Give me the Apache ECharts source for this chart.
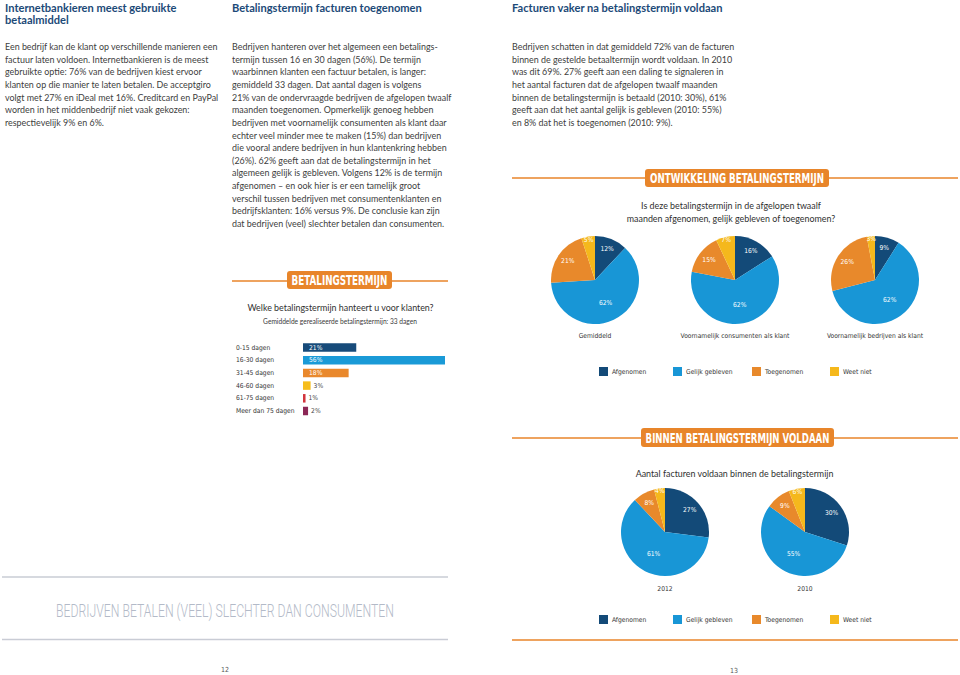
<!DOCTYPE html>
<html><head><meta charset="utf-8">
<script src="https://cdn.jsdelivr.net/npm/echarts@6/dist/echarts.min.js"></script>
<style>html,body{margin:0;padding:0;background:#fff}#c{width:960px;height:675px}</style>
</head><body><div id="c"></div>
<script>
// ---------- DATA ----------
const barCategories = ['0-15 dagen', '16-30 dagen', '31-45 dagen', '46-60 dagen', '61-75 dagen', 'Meer dan 75 dagen'];
const barValues = [21, 56, 18, 3, 1, 2];
const pieNames = ['Afgenomen', 'Gelijk gebleven', 'Toegenomen', 'Weet niet'];
const pieGemiddeld = [12, 62, 21, 5];
const pieConsumenten = [16, 62, 15, 7];
const pieBedrijven = [9, 62, 26, 3];
const pie2012 = [27, 61, 8, 4];
const pie2010 = [30, 55, 9, 6];
const pieCaptionsTop = ['Gemiddeld', 'Voornamelijk consumenten als klant', 'Voornamelijk bedrijven als klant'];
const pieCaptionsBottom = ['2012', '2010'];

const headings = ['Internetbankieren meest gebruikte\nbetaalmiddel', 'Betalingstermijn facturen toegenomen', 'Facturen vaker na betalingstermijn voldaan'];
const bodyLeft = [
  'Een bedrijf kan de klant op verschillende manieren een',
  'factuur laten voldoen. Internetbankieren is de meest',
  'gebruikte optie: 76% van de bedrijven kiest ervoor',
  'klanten op die manier te laten betalen. De acceptgiro',
  'volgt met 27% en iDeal met 16%. Creditcard en PayPal',
  'worden in het middenbedrijf niet vaak gekozen:',
  'respectievelijk 9% en 6%.'];
const bodyMiddle = [
  'Bedrijven hanteren over het algemeen een betalings-',
  'termijn tussen 16 en 30 dagen (56%). De termijn',
  'waarbinnen klanten een factuur betalen, is langer:',
  'gemiddeld 33 dagen. Dat aantal dagen is volgens',
  '21% van de ondervraagde bedrijven de afgelopen twaalf',
  'maanden toegenomen. Opmerkelijk genoeg hebben',
  'bedrijven met voornamelijk consumenten als klant daar',
  'echter veel minder mee te maken (15%) dan bedrijven',
  'die vooral andere bedrijven in hun klantenkring hebben',
  '(26%). 62% geeft aan dat de betalingstermijn in het',
  'algemeen gelijk is gebleven. Volgens 12% is de termijn',
  'afgenomen \u2013 en ook hier is er een tamelijk groot',
  'verschil tussen bedrijven met consumentenklanten en',
  'bedrijfsklanten: 16% versus 9%. De conclusie kan zijn',
  'dat bedrijven (veel) slechter betalen dan consumenten.'];
const bodyRight = [
  'Bedrijven schatten in dat gemiddeld 72% van de facturen',
  'binnen de gestelde betaaltermijn wordt voldaan. In 2010',
  'was dit 69%. 27% geeft aan een daling te signaleren in',
  'het aantal facturen dat de afgelopen twaalf maanden',
  'binnen de betalingstermijn is betaald (2010: 30%), 61%',
  'geeft aan dat het aantal gelijk is gebleven (2010: 55%)',
  'en 8% dat het is toegenomen (2010: 9%).'];
const bannerTexts = ['BETALINGSTERMIJN', 'ONTWIKKELING BETALINGSTERMIJN', 'BINNEN BETALINGSTERMIJN VOLDAAN'];
const barQuestion = 'Welke betalingstermijn hanteert u voor klanten?';
const barSubtitle = 'Gemiddelde gerealiseerde betalingstermijn: 33 dagen';
const pieQuestion = 'Is deze betalingstermijn in de afgelopen twaalf\nmaanden afgenomen, gelijk gebleven of toegenomen?';
const pieQuestion2 = 'Aantal facturen voldaan binnen de betalingstermijn';
const bottomTitle = 'BEDRIJVEN BETALEN (VEEL) SLECHTER DAN CONSUMENTEN';
const pageNumbers = ['12', '13'];

// ---------- STYLE ----------
const BAR_COLORS = ['#174b7a', '#1a9ad7', '#e9882c', '#f6bd1c', '#d2343c', '#8c2756'];
const PIE_COLORS = ['#134a78', '#1896d6', '#e8892b', '#f5b81c'];
const ORANGE = '#e8852a';
const BODY = "Lato, 'Open Sans', sans-serif";
const HEAD = "Lato, 'Open Sans', sans-serif";
const COND = "'Liberation Sans Narrow', 'DejaVu Sans Condensed', 'Roboto', sans-serif";
const BANNER = "'DejaVu Sans Condensed', 'Liberation Sans Narrow', sans-serif";
const THIN = "Roboto, 'Open Sans', sans-serif";
// label ring per category (share of pie radius used for the label ring)
const LABEL_RING = [1.36, null, 1.36, 1.72];

const mctx = document.createElement('canvas').getContext('2d');
function mw(text, size, family, weight) { mctx.font = (weight || 'normal') + ' ' + size + 'px ' + family; return mctx.measureText(text).width; }
function fit(text, family, weight, target) { return 10 * target / mw(text, 10, family, weight); }

const bodySize = fit(bodyLeft[0], BODY, 'normal', 213);
const headSize = fit(headings[1], HEAD, 'bold', 190);
const condSize = fit(pieCaptionsTop[1], COND, 'normal', 109);
const qSize = fit(barQuestion, BODY, 'normal', 187);
const subSize = fit(barSubtitle, BODY, 'normal', 154);

function txt(x, y, text, o) {
  return {
    type: 'text', x: x, y: y, silent: true, scaleX: o.sx || 1, scaleY: o.sy || 1,
    style: { text: text, fontSize: o.size, fontFamily: o.family, fontWeight: o.weight || 'normal',
      fill: o.color || '#404040', align: o.align || 'left', verticalAlign: o.va || 'middle', lineHeight: o.lh }
  };
}
function line(x1, y1, x2, y2, color, w) {
  return { type: 'line', silent: true, shape: { x1: x1, y1: y1, x2: x2, y2: y2 }, style: { stroke: color, lineWidth: w } };
}
function banner(text, cx, cy, bw, bh, textW, lx1, lx2, ly) {
  const size = 14;
  const sx = textW / mw(text, size, BANNER, 'bold');
  return [
    line(lx1, ly, lx2, ly, ORANGE, 1.5),
    { type: 'rect', silent: true, shape: { x: cx - bw / 2, y: cy - bh / 2, width: bw, height: bh, r: 3 }, style: { fill: ORANGE } },
    txt(cx, cy + 0.5, text, { size: size, family: BANNER, weight: 'bold', color: '#fff', align: 'center', sx: sx })
  ];
}

const LH = 12.65;
const graphics = [];
graphics.push(txt(5, 1.2, headings[0], { size: headSize, family: HEAD, weight: 'bold', color: '#1c4a78', va: 'top', lh: 12.5 }));
graphics.push(txt(232, 1.2, headings[1], { size: headSize, family: HEAD, weight: 'bold', color: '#1c4a78', va: 'top', lh: 12.5 }));
graphics.push(txt(512, 1.2, headings[2], { size: headSize, family: HEAD, weight: 'bold', color: '#1c4a78', va: 'top', lh: 12.5 }));
graphics.push(txt(5, 46.5 - LH / 2, bodyLeft.join('\n'), { size: bodySize, family: BODY, va: 'top', lh: LH }));
graphics.push(txt(232, 46.5 - LH / 2, bodyMiddle.join('\n'), { size: bodySize, family: BODY, va: 'top', lh: LH }));
graphics.push(txt(512, 46.5 - LH / 2, bodyRight.join('\n'), { size: bodySize, family: BODY, va: 'top', lh: LH }));

graphics.push(...banner(bannerTexts[0], 339.5, 280, 105, 18, 96, 232, 448, 281));
graphics.push(...banner(bannerTexts[1], 737, 178, 184, 18, 174, 512, 958, 178));
graphics.push(...banner(bannerTexts[2], 737.5, 437.5, 193, 19, 184, 512, 958, 438));
graphics.push(line(512, 640, 958, 640, ORANGE, 1.5));

graphics.push(txt(340.5, 307.7, barQuestion, { size: qSize, family: BODY, color: '#2f2f2f', align: 'center' }));
graphics.push(txt(340, 321, barSubtitle, { size: subSize, family: BODY, color: '#3b3b3b', align: 'center' }));
graphics.push(txt(731, 198.5, pieQuestion, { size: qSize, family: BODY, color: '#2f2f2f', align: 'center', va: 'top', lh: 13.5 }));
graphics.push(txt(734.5, 473, pieQuestion2, { size: qSize, family: BODY, color: '#2f2f2f', align: 'center' }));

const topCenters = [595, 735, 875];
pieCaptionsTop.forEach((c, i) => graphics.push(txt(topCenters[i], 335.5, c, { size: condSize, family: COND, color: '#333', align: 'center' })));
const botCenters = [665, 805];
pieCaptionsBottom.forEach((c, i) => graphics.push(txt(botCenters[i], 589, c, { size: condSize, family: COND, color: '#333', align: 'center' })));

graphics.push(line(2, 577, 448, 577, '#c9ccd5', 1.5));
graphics.push(line(2, 639.5, 448, 639.5, '#c9ccd5', 1.5));
const btSize = 19;
graphics.push(txt(225, 610, bottomTitle, { size: btSize, family: THIN, weight: 300, color: '#b3bac8', align: 'center', sx: 338 / mw(bottomTitle, btSize, THIN, '300') }));
graphics.push(txt(225, 670, pageNumbers[0], { size: 7, family: COND, color: '#555', align: 'center' }));
graphics.push(txt(734, 670.5, pageNumbers[1], { size: 7, family: COND, color: '#555', align: 'center' }));

const R = 44;
const labelBase = { show: true, position: 'inside', formatter: '{c}%', color: '#fff', fontSize: condSize, fontFamily: COND };
function pieSeries(values, center) {
  return {
    type: 'pie', center: center, radius: R, startAngle: 90, clockwise: true,
    avoidLabelOverlap: false, silent: true,
    label: Object.assign({}, labelBase, { show: false }),
    labelLine: { show: false },
    itemStyle: { borderWidth: 0 },
    data: pieNames.map((n, i) => ({ name: n, value: values[i], label: { show: LABEL_RING[i] === null } }))
  };
}
// transparent rings of the same data only to place the slice labels further out
function labelRings(values, center) {
  const rings = [...new Set(LABEL_RING.filter(v => v !== null))];
  return rings.map(k => ({
    type: 'pie', center: center, radius: R * k, startAngle: 90, clockwise: true,
    avoidLabelOverlap: false, silent: true, legendHoverLink: false,
    label: Object.assign({}, labelBase, { show: false }),
    labelLine: { show: false },
    itemStyle: { color: 'rgba(0,0,0,0)', borderWidth: 0 },
    z: 3,
    data: pieNames.map((n, i) => ({ name: n, value: values[i], label: { show: LABEL_RING[i] === k } }))
  }));
}

const legendX = [599, 673, 752, 830];
const legends = [];
[367, 615].forEach(top => {
  pieNames.forEach((n, i) => legends.push({
    data: [{ name: n, itemStyle: { color: PIE_COLORS[i] } }], left: legendX[i], top: top, icon: 'rect', itemWidth: 9, itemHeight: 9, itemGap: 0,
    selectedMode: false, padding: 0,
    textStyle: { fontSize: condSize, fontFamily: COND, color: '#333', padding: [0, 0, 0, -1] }
  }));
});

const pies = [
  [pieGemiddeld, [595, 280]], [pieConsumenten, [735, 280]], [pieBedrijven, [875, 280]],
  [pie2012, [665, 532]], [pie2010, [805, 532]]
];

const option = {
  animation: false,
  color: PIE_COLORS,
  graphic: graphics,
  legend: legends,
  grid: { left: 303, top: 341.15, width: 142, height: 76.2 },
  xAxis: { type: 'value', min: 0, max: 56, show: false },
  yAxis: {
    type: 'category', data: barCategories, inverse: true,
    axisLine: { show: false }, axisTick: { show: false }, splitLine: { show: false },
    axisLabel: { align: 'left', margin: 67, fontSize: condSize, fontFamily: COND, color: '#333' }
  },
  series: [
    {
      type: 'bar', barWidth: 8.5, silent: true,
      label: { show: true, formatter: '{c}%', fontSize: condSize, fontFamily: COND },
      data: barValues.map((v, i) => ({
        value: v, itemStyle: { color: BAR_COLORS[i] },
        label: v >= 10 ? { position: 'insideLeft', color: '#fff', distance: 6 } : { position: 'right', color: '#444', distance: 3 }
      }))
    }
  ].concat(pies.map(p => pieSeries(p[0], p[1])))
   .concat(...pies.map(p => labelRings(p[0], p[1])))
};

const chart = echarts.init(document.getElementById('c'), null, { renderer: 'svg', width: 960, height: 675 });
chart.setOption(option);
</script>
</body></html>
